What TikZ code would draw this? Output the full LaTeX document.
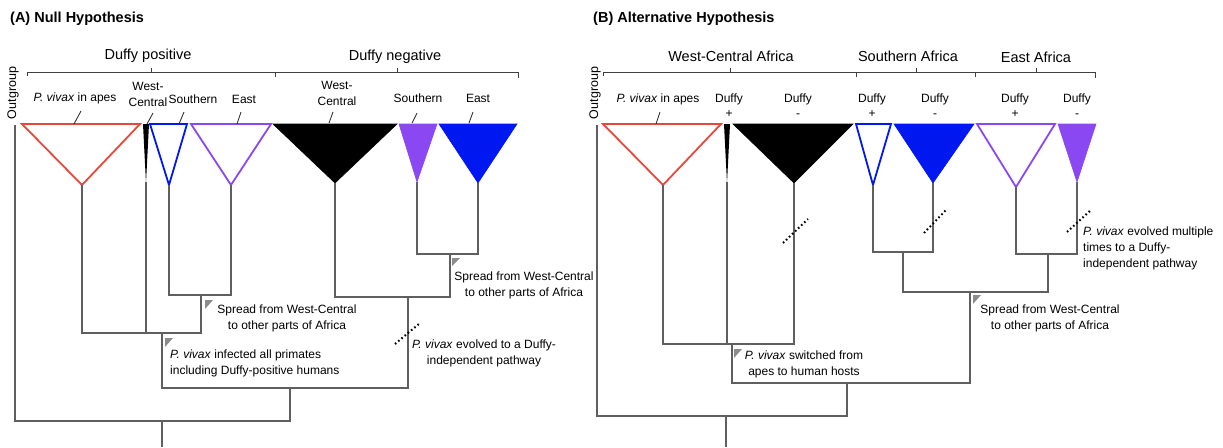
\documentclass[tikz,border=0pt]{standalone}
\usepackage{fontspec}
\setmainfont{Liberation Sans}
\definecolor{redc}{RGB}{232,72,60}
\definecolor{bluec}{RGB}{0,24,240}
\definecolor{purc}{RGB}{137,72,242}
\definecolor{treegray}{RGB}{95,95,95}
\definecolor{flaggray}{RGB}{140,140,140}
\begin{document}
\begin{tikzpicture}[x=1pt,y=-1pt,
  tree/.style={draw=treegray, line width=1.5pt},
  lab/.style={font=\fontsize{12}{16}\selectfont, inner sep=0pt, align=center},
  hdr/.style={font=\fontsize{14.5}{17}\selectfont, inner sep=0pt},
  ttl/.style={font=\bfseries\fontsize{14.5}{17}\selectfont, inner sep=0pt, anchor=west},
  brk/.style={draw=black!75, line width=1pt},
  lead/.style={draw=black!80, line width=0.9pt},
  otri/.style={line width=1.8pt, fill=white, line join=miter},
  ftri/.style={line width=0.6pt},
  flagmk/.style={fill=flaggray},
  dotsl/.style={draw=black, line width=2pt, dash pattern=on 1.6pt off 2.6pt}
]
\useasboundingbox (0,0) rectangle (1223,447);

%% ================= Panel A =================
\node[ttl] (tA) at (10,19) {(A) Null Hypothesis};
\node[hdr] (hpos) at (148,56) {Duffy positive};
\node[hdr] (hneg) at (395,57) {Duffy negative};
\draw[brk] (27,76) -- (27,72) -- (518,72) -- (518,78);
\draw[brk] (275,72) -- (275,77);
\draw[brk] (151,72) -- (151,68);
\draw[brk] (397,72) -- (397,68);
\node[lab, rotate=90, font=\fontsize{12.5}{15}\selectfont] (ogA) at (13,93) {Outgroup};

% triangles
\draw[otri, draw=redc] (22,124) -- (140,124) -- (82,185) -- cycle;
\fill[black] (143,124) -- (149,124) -- (146,183) -- cycle;
\draw[otri, draw=bluec] (150,124) -- (187,124) -- (169,185) -- cycle;
\draw[otri, draw=purc] (191,124) -- (271,124) -- (231,185) -- cycle;
\filldraw[ftri, black] (273,124) -- (397,124) -- (335,183) -- cycle;
\filldraw[ftri, purc] (399,124) -- (437,124) -- (417,182) -- cycle;
\filldraw[ftri, bluec] (439,124) -- (517,124) -- (478,183) -- cycle;
\coordinate (rA) at (82,185);
\coordinate (kA) at (146,182);
\coordinate (sA) at (169,185);
\coordinate (eA) at (231,185);
\coordinate (KA) at (335,183);
\coordinate (SA) at (417,182);
\coordinate (EA) at (478,183);

% labels
\node[lab] (lapesA) at (75,98) {\textit{P. vivax} in apes};
\draw[lead] (81,111) -- (74,124);
\node[lab] (lwcA) at (148,94) {West-\\Central};
\draw[lead] (153,113) -- (147,124);
\node[lab] (lsoA) at (193,99) {Southern};
\draw[lead] (184,112) -- (179,124);
\node[lab] (leaA) at (244,99) {East};
\draw[lead] (241,112) -- (237,124);
\node[lab] (lwcnA) at (337,93) {West-\\Central};
\draw[lead] (333,112) -- (329,123);
\node[lab] (lsonA) at (418,98) {Southern};
\draw[lead] (417,113) -- (412,123);
\node[lab] (leanA) at (478,98) {East};
\draw[lead] (473,112) -- (469,123);

% tree
\coordinate (ogAt) at (15,125);
\coordinate (j1) at (201,295);
\coordinate (j2) at (162,333);
\coordinate (j3) at (450,254);
\coordinate (j4) at (408,297);
\coordinate (j5) at (290,388);
\coordinate (jr) at (162,421);
\coordinate (jrb) at (162,447);
\draw[tree] (sA) |- (j1) -| (eA);
\draw[tree] (rA) |- (j2) -| (j1);
\draw[tree] (kA) -- (kA |- j2);
\draw[tree] (SA) |- (j3) -| (EA);
\draw[tree] (KA) |- (j4) -| (j3);
\draw[tree] (j2) |- (j5) -| (j4);
\draw[tree] (ogAt) |- (jr) -| (j5);
\draw[tree] (jr) -- (jrb);

% annotations
\fill[flagmk] (205,300) -- (213,300) -- (205,309) -- cycle;
\node[lab] (spA1) at (287,318.5) {Spread from West-Central\\to other parts of Africa};
\fill[flagmk] (165,338) -- (173,338) -- (165,347) -- cycle;
\node[lab, anchor=west, align=left] (infA) at (170,363.5) {\textit{P. vivax} infected all primates\\including Duffy-positive humans};
\fill[flagmk] (452,258) -- (460,258) -- (452,266) -- cycle;
\node[lab] (spA2) at (524,285) {Spread from West-Central\\to other parts of Africa};
\coordinate (dA1) at (395,344);
\coordinate (dA2) at (420,323);
\draw[dotsl] (dA1) -- (dA2);
\node[lab] (evA) at (484,353.5) {\textit{P. vivax} evolved to a Duffy-\\independent pathway};

%% ================= Panel B =================
\node[ttl] (tB) at (593,19) {(B) Alternative Hypothesis};
\node[hdr] (hwc) at (731,56) {West-Central Africa};
\node[hdr] (hso) at (908,56) {Southern Africa};
\node[hdr] (hea) at (1036,57) {East Africa};
\draw[brk] (603,76) -- (603,72) -- (1095,72) -- (1095,78);
\draw[brk] (856,72) -- (856,77);
\draw[brk] (975,72) -- (975,77);
\draw[brk] (730,72) -- (730,68);
\draw[brk] (916,72) -- (916,68);
\draw[brk] (1036,72) -- (1036,68);
\node[lab, rotate=90, font=\fontsize{12.5}{15}\selectfont] (ogB) at (595,93) {Outgroup};

% triangles
\draw[otri, draw=redc] (603,124) -- (721,124) -- (663,185) -- cycle;
\fill[black] (724,124) -- (730,124) -- (727,183) -- cycle;
\filldraw[ftri, black] (733,124) -- (853,124) -- (794,183) -- cycle;
\draw[otri, draw=bluec] (856,124) -- (891,124) -- (873,185) -- cycle;
\filldraw[ftri, bluec] (894,124) -- (974,124) -- (933,183) -- cycle;
\draw[otri, draw=purc] (977,124) -- (1055,124) -- (1016,187) -- cycle;
\filldraw[ftri, purc] (1058,124) -- (1096,124) -- (1077,182) -- cycle;
\coordinate (rB) at (663,185);
\coordinate (kB) at (727,182);
\coordinate (KB) at (794,183);
\coordinate (sB) at (873,185);
\coordinate (SB) at (933,183);
\coordinate (eB) at (1016,187);
\coordinate (EB) at (1077,182);

% labels
\node[lab] (lapesB) at (658,99) {\textit{P. vivax} in apes};
\draw[lead] (660,112) -- (656,124);
\node[lab, font=\fontsize{12}{15}\selectfont] (d1) at (729,106) {Duffy\\+};
\node[lab, font=\fontsize{12}{15}\selectfont] (d2) at (798,106) {Duffy\\-};
\node[lab, font=\fontsize{12}{15}\selectfont] (d3) at (872,106) {Duffy\\+};
\node[lab, font=\fontsize{12}{15}\selectfont] (d4) at (935,106) {Duffy\\-};
\node[lab, font=\fontsize{12}{15}\selectfont] (d5) at (1015,106) {Duffy\\+};
\node[lab, font=\fontsize{12}{15}\selectfont] (d6) at (1077,106) {Duffy\\-};

% tree
\coordinate (ogBt) at (597,125);
\coordinate (b1) at (903,252);
\coordinate (b2) at (1048,254);
\coordinate (b3) at (970,292);
\coordinate (b4) at (732,344);
\coordinate (b5) at (847,383);
\coordinate (br) at (726,416);
\coordinate (brb) at (726,447);
\draw[tree] (sB) |- (b1) -| (SB);
\draw[tree] (eB) |- (b2) -| (EB);
\draw[tree] (b1) |- (b3) -| (b2);
\draw[tree] (rB) |- (b4) -| (KB);
\draw[tree] (kB) -- (kB |- b4);
\draw[tree] (b4) |- (b5) -| (b3);
\draw[tree] (ogBt) |- (br) -| (b5);
\draw[tree] (br) -- (brb);

% annotations
\draw[dotsl] (783,243) -- (808,219);
\draw[dotsl] (924,233) -- (946,210);
\draw[dotsl] (1067,232) -- (1091,210);
\fill[flagmk] (734,349) -- (742,349) -- (734,358) -- cycle;
\node[lab] (swB) at (804,364.5) {\textit{P. vivax} switched from\\apes to human hosts};
\fill[flagmk] (973,295) -- (981,295) -- (973,304) -- cycle;
\node[lab] (spB) at (1050,318.5) {Spread from West-Central\\to other parts of Africa};
\node[lab, anchor=west, align=left] (evB) at (1083,248) {\textit{P. vivax} evolved multiple\\times to a Duffy-\\independent pathway};
\end{tikzpicture}
\end{document}
